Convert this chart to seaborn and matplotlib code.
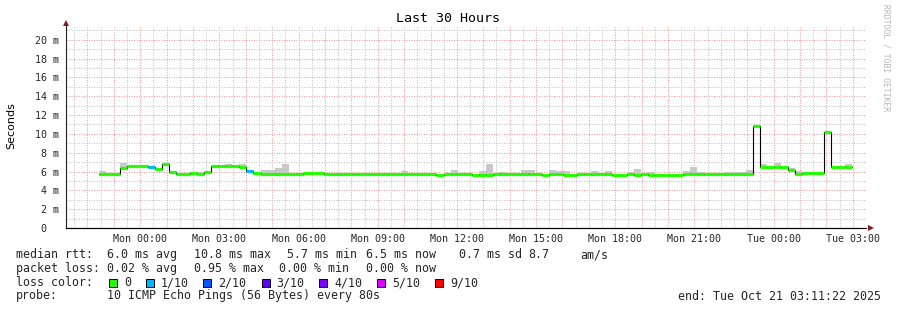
import numpy as np
import pandas as pd
import matplotlib
matplotlib.use("Agg")
import matplotlib.pyplot as plt
from matplotlib.patches import Rectangle
import seaborn as sns

# ---------------- data ----------------
TITLE = "Last 30 Hours"
Y_LABEL = "Seconds"
X_START_H = -2.8106      # Sun 21:11:22 (hours relative to Mon 00:00)
X_END_H = 27.1894        # Tue 03:11:22
FIRST_BIN_H = -1.5733    # first consolidated sample
BIN_H = 16 / 60.0        # 16-minute consolidation step
Y_MAX = 21.4

median_ms = [
    5.75, 5.75, 5.75, 6.40, 6.56, 6.56, 6.56, 6.45, 6.30, 6.80,
    5.90, 5.70, 5.70, 5.80, 5.70, 5.95, 6.55, 6.55, 6.55, 6.55,
    6.45, 6.05, 5.80, 5.75, 5.75, 5.75, 5.75, 5.75, 5.75, 5.80,
    5.80, 5.80, 5.75, 5.75, 5.75, 5.75, 5.75, 5.75, 5.75, 5.75,
    5.75, 5.75, 5.75, 5.75, 5.75, 5.75, 5.75, 5.75, 5.65, 5.75,
    5.75, 5.75, 5.75, 5.65, 5.65, 5.65, 5.75, 5.75, 5.75, 5.75,
    5.75, 5.75, 5.75, 5.65, 5.75, 5.75, 5.65, 5.65, 5.75, 5.75,
    5.75, 5.75, 5.75, 5.65, 5.65, 5.75, 5.65, 5.75, 5.65, 5.65,
    5.65, 5.65, 5.65, 5.75, 5.75, 5.75, 5.75, 5.75, 5.75, 5.75,
    5.75, 5.75, 5.75, 10.80, 6.50, 6.50, 6.50, 6.50, 6.20, 5.75,
    5.80, 5.80, 5.80, 10.20, 6.50, 6.50, 6.50,
]

N = None
smoke_top_ms = [
    6.05, N, N, 6.90, N, N, N, N, N, N,
    N, N, N, 5.90, 5.90, N, N, 6.70, 6.85, 6.70,
    6.85, N, N, 6.17, 6.17, 6.40, 6.85, N, N, N,
    N, N, N, N, N, N, N, N, N, N,
    N, N, N, 6.05, N, N, N, N, N, N,
    6.15, N, N, N, 6.05, 6.80, N, 5.95, N, N,
    6.15, 6.15, N, N, 6.15, 6.05, 6.05, N, N, N,
    6.05, N, 6.05, N, N, 5.95, 6.25, N, 5.95, N,
    N, N, N, 6.05, 6.45, 5.95, N, N, N, 5.95,
    5.95, 5.95, 6.15, N, 6.80, 6.55, 6.90, 6.55, 6.40, 6.05,
    N, N, N, N, N, N, 6.85,
]

# bins with packet loss (in tenths), all others 0
loss_events = {7: 1, 21: 1}

x_tick_hours = [0, 3, 6, 9, 12, 15, 18, 21, 24, 27]
x_tick_labels = ["Mon 00:00", "Mon 03:00", "Mon 06:00", "Mon 09:00", "Mon 12:00",
                 "Mon 15:00", "Mon 18:00", "Mon 21:00", "Tue 00:00", "Tue 03:00"]
y_tick_values = [0, 2, 4, 6, 8, 10, 12, 14, 16, 18, 20]
y_tick_labels = [" 0", " 2 m", " 4 m", " 6 m", " 8 m", "10 m", "12 m", "14 m",
                 "16 m", "18 m", "20 m"]

loss_color_labels = ["0", "1/10", "2/10", "3/10", "4/10", "5/10", "9/10"]
loss_color_hex = ["#26ff00", "#00b8ff", "#0059ff", "#5e00ff", "#7e00ff", "#dd00ff", "#ff0000"]

legend_line1 = ["median rtt:", "6.0 ms avg", "10.8 ms max", "5.7 ms min",
                "6.5 ms now", "0.7 ms sd", "8.7", "am/s"]
legend_line2 = ["packet loss:", "0.02 % avg", "0.95 % max", "0.00 % min", "0.00 % now"]
legend_line3_head = "loss color:"
legend_line4 = ["probe:", "10 ICMP Echo Pings (56 Bytes) every 80s"]
end_text = "end: Tue Oct 21 03:11:22 2025"
credit_text = "RRDTOOL / TOBI OETIKER"

# ---------------- style ----------------
sns.set_style("white")
MONO = ["DejaVu Sans Mono"]
plt.rcParams["font.family"] = ["DejaVu Sans"]

W, H = 897, 310
fig = plt.figure(figsize=(W / 100, H / 100), dpi=100)
fig.patch.set_facecolor("white")

def fx(px):
    return px / W

def fy(py):
    return 1 - py / H

AX_L, AX_R, AX_B = 66, 866, 228
ax_h_px = Y_MAX * 9.41
ax = fig.add_axes([fx(AX_L), fy(AX_B), (AX_R - AX_L) / W, ax_h_px / H])
ax.set_facecolor("white")

n = len(median_ms)
starts = FIRST_BIN_H + np.arange(n) * BIN_H
med = np.array(median_ms, dtype=float)
top = np.array([np.nan if v is None else v for v in smoke_top_ms], dtype=float)
loss = np.array([loss_events.get(i, 0) for i in range(n)])

df = pd.DataFrame({"t": starts, "median": med, "top": top, "loss": loss})

# smoke (gray) above the median
sm = df.dropna(subset=["top"])
ax.bar(sm["t"], sm["top"] - sm["median"] + 0.12, bottom=sm["median"] - 0.12,
       width=BIN_H, align="edge", color="#c8c8c8", linewidth=0, zorder=2)

# black connecting median step line
step_df = pd.concat([df[["t", "median"]],
                     pd.DataFrame({"t": [starts[-1] + BIN_H], "median": [med[-1]]})],
                    ignore_index=True)
sns.lineplot(data=step_df, x="t", y="median", drawstyle="steps-post", color="black",
             linewidth=0.8, ax=ax, legend=False, zorder=3)

# coloured loss segments
cols = [loss_color_hex[v] for v in df["loss"]]
ax.hlines(df["median"], df["t"], df["t"] + BIN_H, colors=cols, linewidth=2.3,
          zorder=4, capstyle="butt")

# axes ranges / grid
ax.set_xlim(X_START_H, X_END_H)
ax.set_ylim(0, Y_MAX)
ax.set_xticks(np.arange(-2, 28, 1))
ax.set_xticks(np.arange(-2.5, 27.6, 1), minor=True)
lbl_map = dict(zip(x_tick_hours, x_tick_labels))
ax.set_xticklabels([lbl_map.get(int(h), "") for h in np.arange(-2, 28, 1)],
                   fontfamily=MONO, fontsize=7.2)
ax.set_yticks(y_tick_values)
ax.set_yticks(np.arange(1, 22, 2), minor=True)
ax.set_yticklabels(y_tick_labels, fontfamily=MONO, fontsize=7.2, ha="left")
ax.set_xlabel("")
ax.set_ylabel("")

dots = (0, (1, 1.4))
ax.grid(which="major", color="#f0a0a0", linestyle=dots, linewidth=0.75)
ax.grid(which="minor", color="#c4c4c4", linestyle=dots, linewidth=0.75)
ax.set_axisbelow(True)

ax.tick_params(axis="y", which="both", direction="out", length=2, width=0.7,
               color="#1f1f1f", pad=20.2)
ax.tick_params(axis="x", which="major", direction="inout", length=3, width=0.7,
               color="#1f1f1f", pad=2.5)
ax.tick_params(axis="x", which="minor", direction="inout", length=2, width=0.7,
               color="#1f1f1f")

for s in ["top", "right"]:
    ax.spines[s].set_visible(False)
ax.spines["left"].set_color("#1f1f1f")
ax.spines["left"].set_linewidth(0.8)
ax.spines["bottom"].set_color("#000000")
ax.spines["bottom"].set_linewidth(0.8)
ax.spines["left"].set_bounds(0, Y_MAX + 0.2)

# axis arrows
ax.plot([0], [1.0 + 3.5 / ax_h_px], marker="^", markersize=4.2, color="#801f1f",
        transform=ax.transAxes, clip_on=False, zorder=6, markeredgewidth=0)
ax.plot([X_START_H, X_START_H + 30.1], [0, 0], color="black", lw=0.8, clip_on=False,
        zorder=5)
ax.plot([1.0 + 5 / 800], [0], marker=">", markersize=4.2, color="#801f1f",
        transform=ax.transAxes, clip_on=False, zorder=6, markeredgewidth=0)

# title, y label, credit
fig.text(fx(448), fy(19), TITLE, ha="center", va="center", fontfamily=MONO,
         fontsize=9.6, color="black")
fig.text(fx(11), fy(126), Y_LABEL, ha="center", va="center", rotation=90,
         fontsize=8.0, color="black")
fig.text(fx(886), fy(4), credit_text, ha="center", va="top", rotation=270,
         fontfamily=MONO, fontsize=5.8, color="#b8b8b8")

# legend text
LEG_FS = 8.35
line1_x = [16, 107.3, 194, 286.7, 365.7, 459.3, 528.3, 580]
for s, x in zip(legend_line1, line1_x):
    fig.text(fx(x), fy(254.5), s, ha="left", va="center", fontfamily=MONO, fontsize=LEG_FS)
line2_x = [16, 107.3, 194, 279.3, 365.7]
for s, x in zip(legend_line2, line2_x):
    fig.text(fx(x), fy(268.3), s, ha="left", va="center", fontfamily=MONO, fontsize=LEG_FS)
fig.text(fx(16), fy(282.5), legend_line3_head, ha="left", va="center", fontfamily=MONO,
         fontsize=LEG_FS)
box_x = [109.3, 146, 203.3, 261.7, 319.3, 376.7, 435]
lab_x = [124, 160.7, 218.3, 276.7, 334.3, 392.3, 450]
for c, l, bx, lx in zip(loss_color_hex, loss_color_labels, box_x, lab_x):
    fig.add_artist(Rectangle((fx(bx), fy(287)), 8 / W, 8 / H, transform=fig.transFigure,
                             facecolor=c, edgecolor="black", linewidth=0.7))
    fig.text(fx(lx), fy(282.5), l, ha="left", va="center", fontfamily=MONO, fontsize=LEG_FS)
line4_x = [16, 107.3]
for s, x in zip(legend_line4, line4_x):
    fig.text(fx(x), fy(296), s, ha="left", va="center", fontfamily=MONO, fontsize=LEG_FS)
fig.text(fx(678), fy(296), end_text, ha="left", va="center", fontfamily=MONO, fontsize=LEG_FS)

fig.savefig("out.png", dpi=100, facecolor="white")
